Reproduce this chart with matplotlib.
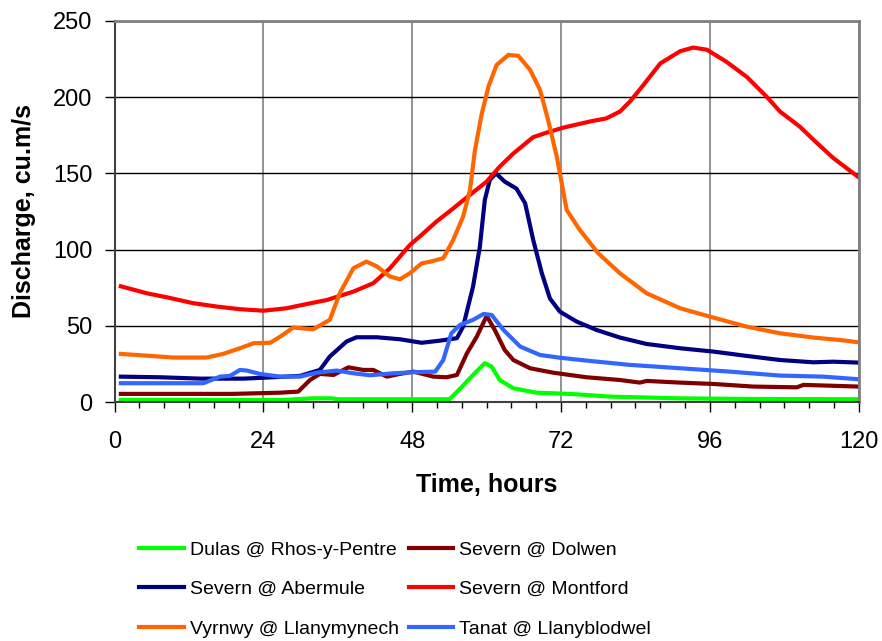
import matplotlib
matplotlib.use("Agg")
import matplotlib.pyplot as plt
from matplotlib.ticker import MultipleLocator

plt.rcParams["font.family"] = ["Liberation Sans", "DejaVu Sans"]

# series: hours and discharge (cu.m/s)
dulas_h = [1, 27, 32, 35, 36, 54, 55.5, 57.8, 59.7, 60.8, 62.1, 64.3, 68, 73.4, 80, 91, 102, 120]
dulas_q = [1.5, 1.5, 2.6, 2.6, 2, 2, 8, 17.9, 25.6, 23.4, 14.6, 9.2, 6.3, 5.5, 3.7, 2.6, 2.2, 2]

dolwen_h = [1, 19, 26.7, 29.6, 31.5, 33.1, 35.3, 37.7, 40.1, 41.7, 43.9, 46, 48.2, 51.4, 53.5,
            55.2, 56.8, 58.4, 60, 61.3, 62.9, 64.3, 67, 70.7, 76.1, 81.5, 84.7, 85.8, 91.2,
            96.6, 103, 110, 111.1, 120]
dolwen_q = [5.5, 5.5, 6.3, 7, 14.6, 18.6, 17.9, 22.9, 21.2, 21.2, 16.8, 18.6, 20.1, 16.8, 16.4,
            17.9, 32, 43, 56.6, 47.4, 34.3, 27.7, 22.3, 19.4, 16.4, 14.6, 12.9, 14, 12.9,
            12, 10.3, 9.8, 11.4, 10.3]

abermule_h = [1, 7.3, 13.8, 20.8, 24.5, 29.9, 33.1, 34.7, 37.4, 39, 42.3, 46, 49.5, 52.5, 55.2,
              56.2, 57.8, 58.9, 59.7, 60.5, 61.5, 62.9, 64.8, 66.2, 67.5, 68.9, 70.2, 71.8,
              74.5, 77.7, 81.5, 85.8, 91.2, 96.6, 101.9, 107.3, 112.7, 115.9, 120]
abermule_q = [16.8, 16.4, 15.5, 15.5, 16.2, 17.3, 21.2, 30, 39.8, 42.6, 42.6, 41.3, 39, 40.4, 42,
              49.6, 75.8, 102, 132.6, 145.7, 150, 144.6, 140, 130.4, 106.4, 84.5, 68, 59.4,
              52.9, 47.4, 42.4, 38.2, 35.4, 33.2, 30.4, 27.7, 26.2, 26.6, 26]

montford_h = [1, 5.2, 8.4, 12.7, 16.5, 20.2, 24, 27.7, 31, 34.2, 38.5, 41.7, 44.4, 47.6, 49.2,
              51.9, 54.6, 57.3, 60, 62.1, 64.3, 67.5, 69.7, 72.4, 76.7, 79.3, 81.5, 83.1, 85.3,
              88, 91.2, 93.3, 95.5, 98.7, 102, 105.2, 107.3, 110.5, 112.7, 115.9, 120]
montford_q = [76, 71.4, 68.8, 64.9, 62.7, 61, 60, 61.6, 64.4, 67, 72.5, 78, 87.8, 103, 108.6,
              118.4, 127, 135.9, 144.6, 154.4, 163, 173.7, 176.7, 180, 184, 186, 190.5, 197, 208,
              222, 230, 232.4, 231, 223, 213, 200, 190.5, 180.6, 172, 160, 147.4]

vyrnwy_h = [1, 5.7, 9.5, 14.8, 17.5, 20.2, 22.4, 25.1, 26.7, 28.8, 32, 34.7, 36.3, 38.5, 40.6,
            42.3, 44.4, 46, 47.6, 49.5, 51, 53, 54.6, 56.2, 57.3, 58.1, 59.2, 60.3, 61.6, 63.5,
            65.1, 67, 68.6, 69.9, 71.3, 72.9, 75, 78, 81.5, 85.8, 91.2, 96, 101.9, 107.3,
            112.7, 117, 120]
vyrnwy_q = [31.7, 30.4, 29.3, 29.3, 31.7, 35.4, 38.7, 39, 43, 49, 47.8, 54, 71.4, 87.8, 92.2,
            89, 82.4, 80.6, 84.5, 91, 92.2, 94.4, 106.4, 121.7, 139, 165, 189, 207, 221, 227.6,
            227, 217.8, 204.7, 185, 161, 126, 113, 97.6, 84.5, 71.4, 61.6, 56.1, 49.6, 45.2,
            42.4, 40.8, 39.3]

tanat_h = [1, 8.4, 14.3, 17, 18.6, 20.2, 21.3, 23.4, 26.7, 29.9, 32.6, 35.8, 38.5, 41.2, 44.9,
           48.2, 51.7, 53, 54.3, 55.7, 57.8, 59.5, 60.8, 62.7, 65.4, 68.6, 71.8, 76.4, 83.1,
           91.2, 99.2, 107.3, 114.3, 120]
tanat_q = [12.5, 12.5, 12.5, 16.8, 17.3, 21.2, 20.8, 18.6, 16.8, 16.8, 19.4, 20.8, 19, 17.7, 19,
           19.7, 20.1, 27.7, 45.2, 50.7, 54, 57.9, 57.2, 47.4, 36.5, 31, 29.2, 27.2, 24.5,
           22.3, 20.1, 17.5, 16.8, 15.1]

x_ticks = [0, 24, 48, 72, 96, 120]
y_ticks = [0, 50, 100, 150, 200, 250]

fig = plt.figure(figsize=(8.82, 6.41), dpi=100)
ax = fig.add_axes([0.130, 0.3724, 0.8436, 0.5953])

# plotted in the original series order so later ones sit on top
lines = {}
lines["dulas"], = ax.plot(dulas_h, dulas_q, color="#00ff00", lw=3, label="Dulas @ Rhos-y-Pentre")
lines["dolwen"], = ax.plot(dolwen_h, dolwen_q, color="#800000", lw=3, label="Severn @ Dolwen")
lines["abermule"], = ax.plot(abermule_h, abermule_q, color="#000080", lw=3, label="Severn @ Abermule")
lines["montford"], = ax.plot(montford_h, montford_q, color="#ff0000", lw=3, label="Severn @ Montford")
lines["vyrnwy"], = ax.plot(vyrnwy_h, vyrnwy_q, color="#ff6600", lw=3, label="Vyrnwy @ Llanymynech")
lines["tanat"], = ax.plot(tanat_h, tanat_q, color="#3366ff", lw=3, label="Tanat @ Llanyblodwel")

ax.set_xlim(0, 120)
ax.set_ylim(0, 250)
ax.set_xticks(x_ticks)
ax.set_yticks(y_ticks)
ax.xaxis.set_minor_locator(MultipleLocator(4))
ax.tick_params(axis="both", which="major", direction="out", length=7, width=1,
               labelsize=17, color="black")
ax.tick_params(axis="y", which="major", pad=9)
ax.tick_params(axis="x", which="major", pad=14)
ax.tick_params(axis="x", which="minor", direction="out", length=4, width=1, color="black")

ax.grid(axis="y", color="black", lw=1)
ax.grid(axis="x", color="#808080", lw=1.2)
ax.set_axisbelow(True)

for side in ["top", "right"]:
    ax.spines[side].set_color("#808080")
    ax.spines[side].set_linewidth(2)
for side in ["left", "bottom"]:
    ax.spines[side].set_color("#404040")
    ax.spines[side].set_linewidth(1.5)

ax.set_xlabel("Time, hours", fontsize=18, fontweight="bold", labelpad=14)
ax.set_ylabel("Discharge, cu.m/s", fontsize=18, fontweight="bold", labelpad=12)

order = ["dulas", "abermule", "vyrnwy", "dolwen", "montford", "tanat"]
fig.legend([lines[k] for k in order], [lines[k].get_label() for k in order],
           loc="upper left", bbox_to_anchor=(0.158, 0.156), ncol=2, frameon=False,
           fontsize=14, handlelength=2.3, handletextpad=0.3, columnspacing=0.5,
           labelspacing=1.13, borderpad=0, borderaxespad=0)

fig.savefig("out.png", dpi=100)
